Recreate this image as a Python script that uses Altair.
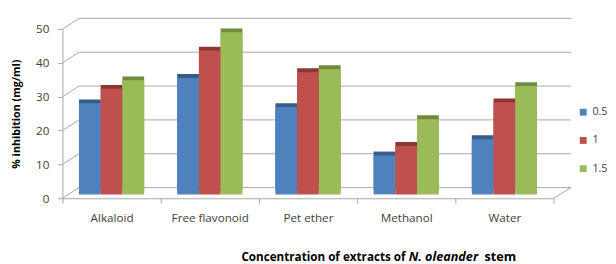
import altair as alt
import pandas as pd

categories = ["Alkaloid", "Free flavonoid", "Pet ether", "Methanol", "Water"]
series = ["0.5", "1", "1.5"]
vals_05 = [26.9, 34.4, 25.8, 11.5, 16.3]
vals_1 = [31.2, 42.5, 36.1, 14.3, 27.2]
vals_15 = [33.7, 47.9, 37.0, 22.2, 32.0]
y_ticks = [0, 10, 20, 30, 40, 50]
title_parts = ["Concentration of extracts of", "N. oleander", "stem"]

front_colors = ["#4F81BD", "#C0504D", "#9BBB59"]
dark_colors = ["#365C8C", "#8E3634", "#6E8A3A"]

rows = []
for s, vals in zip(series, [vals_05, vals_1, vals_15]):
    for c, v in zip(categories, vals):
        rows.append({"category": c, "series": s, "value": v})
df = pd.DataFrame(rows)
ticks_df = pd.DataFrame({"v": y_ticks})

W, H = 505, 174
FONT = "Open Sans"
GRID = "#A6A6A6"

x_enc = alt.X("category:N", sort=categories, title=None,
              scale=alt.Scale(paddingInner=0, paddingOuter=0),
              axis=alt.Axis(labelAngle=0, labelFontSize=12, labelColor="#404040",
                            labelFont=FONT, labelPadding=10, domainColor=GRID,
                            tickColor=GRID, tickBand="extent", tickSize=5))
y_scale = alt.Scale(domain=[0, 50], nice=False)
y_axis = alt.Axis(values=y_ticks, grid=False, labelFontSize=12, labelColor="#404040",
                  labelFont=FONT, domainColor=GRID, tickColor=GRID, tickSize=5,
                  labelPadding=9, labelOverlap=False, titleFontSize=11, titleFont=FONT,
                  titleFontWeight="bold", titleColor="#000000", titlePadding=14)
y_title = "% inhibition (mg/ml)"
xoff = alt.XOffset("series:N", sort=series,
                   scale=alt.Scale(paddingInner=0, paddingOuter=0.76))

back_grid = alt.Chart(ticks_df).mark_rule(color=GRID, strokeWidth=1, yOffset=-11).encode(
    x=alt.value(17), x2=alt.value(523),
    y=alt.Y("v:Q", scale=y_scale, title=y_title, axis=y_axis))
slants = alt.Chart(ticks_df).mark_rule(color=GRID, strokeWidth=1, y2Offset=-11).encode(
    x=alt.value(0), x2=alt.value(17),
    y=alt.Y("v:Q", scale=y_scale, title=y_title, axis=y_axis), y2="v:Q")
floor_right = alt.Chart(ticks_df.head(1)).mark_rule(color=GRID, strokeWidth=1, y2Offset=-11).encode(
    x=alt.value(W), x2=alt.value(W + 18),
    y=alt.Y("v:Q", scale=y_scale, title=y_title, axis=y_axis), y2="v:Q")

dark = alt.Chart(df).mark_bar(xOffset=15, yOffset=-8).encode(
    x=x_enc, xOffset=xoff,
    y=alt.Y("value:Q", scale=y_scale, title=y_title, axis=y_axis),
    color=alt.Color("series:N", sort=series, legend=None,
                    scale=alt.Scale(domain=series, range=dark_colors)))

front = alt.Chart(df).mark_bar(xOffset=9, yOffset=-4).encode(
    x=x_enc, xOffset=xoff,
    y=alt.Y("value:Q", scale=y_scale, title=y_title, axis=y_axis),
    color=alt.Color("series:N", sort=series,
                    scale=alt.Scale(domain=series, range=front_colors),
                    legend=alt.Legend(title=None, orient="none", legendX=530, legendY=80,
                                      symbolType="square", symbolSize=50,
                                      labelFontSize=11, labelFont=FONT, labelColor="#404040",
                                      rowPadding=17)))

tdf = pd.DataFrame({"t": title_parts})
t1 = alt.Chart(tdf.iloc[[0]]).mark_text(align="left", baseline="middle", fontWeight="bold",
                                         fontSize=12, font=FONT, color="#000000").encode(
    text="t:N", x=alt.value(184), y=alt.value(234))
t2 = alt.Chart(tdf.iloc[[1]]).mark_text(align="left", baseline="middle", fontWeight="bold",
                                         fontStyle="italic", fontSize=13, font=FONT,
                                         color="#000000").encode(
    text="t:N", x=alt.value(356), y=alt.value(234))
t3 = alt.Chart(tdf.iloc[[2]]).mark_text(align="left", baseline="middle", fontWeight="bold",
                                         fontSize=13, font=FONT, color="#000000").encode(
    text="t:N", x=alt.value(434), y=alt.value(234))

chart = alt.layer(back_grid, slants, floor_right, dark, front, t1, t2, t3).resolve_scale(
    color="independent").properties(
    width=W, height=H, padding={"top": 6, "left": 3, "right": 0, "bottom": 0}
).configure_view(stroke=None)

chart.save("out.html", embed_options={"renderer": "svg", "actions": False})
